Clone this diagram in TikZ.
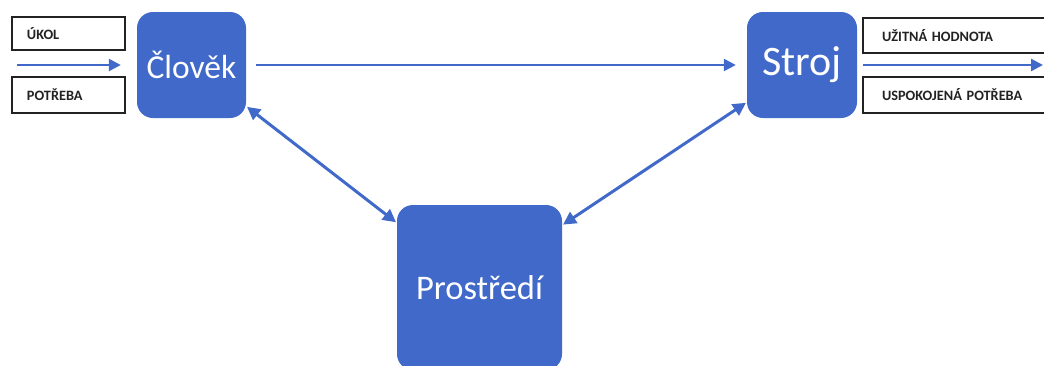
\documentclass[tikz,border=0pt]{standalone}
\usepackage{fontspec}
\setmainfont{Carlito}
\usetikzlibrary{arrows.meta}
\definecolor{boxblue}{HTML}{4169C9}
\definecolor{edge}{HTML}{222222}
\tikzset{
  bluebox/.style={fill=boxblue, draw=none, rounded corners=16pt, text=white, inner sep=0pt},
  labelbox/.style={draw=edge, line width=1.2pt, fill=white, inner ysep=0pt, align=left,
                   font=\bfseries\fontsize{14.3}{16}\selectfont, text=edge},
  flow/.style={draw=boxblue, line width=2.4pt, -{Triangle[length=12pt,width=12pt]}},
  link/.style={draw=boxblue, line width=3pt, {Triangle[length=13pt,width=13pt]}-{Triangle[length=13pt,width=13pt]}}
}
\begin{document}
\begin{tikzpicture}[x=1pt,y=-1pt]
  \useasboundingbox (0,0) rectangle (1044,365);
  \clip (0,0) rectangle (1044,365);

  % main blocks
  \node[bluebox, minimum width=109pt, minimum height=106pt, font=\fontsize{33.5}{36}\selectfont] (clovek) at (191.5,65) {Člověk};
  \node[bluebox, minimum width=110pt, minimum height=106pt, font=\fontsize{42}{44}\selectfont] (stroj) at (802,65) {Stroj};
  \node[bluebox, minimum width=165pt, minimum height=165pt, font=\fontsize{34.5}{38}\selectfont] (prostredi) at (479.5,287.5) {Prostředí};

  % input labels
  \node[labelbox, text width=83pt, inner xsep=15pt, minimum height=33pt] (ukol) at (68.5,33.5) {ÚKOL};
  \node[labelbox, text width=83pt, inner xsep=15pt, minimum height=36pt] (potreba) at (68.5,95) {POTŘEBA};

  % output labels
  \node[labelbox, text width=159pt, inner xsep=19pt, minimum height=35pt] (hodnota) at (961.5,35.5) {UŽITNÁ HODNOTA};
  \node[labelbox, text width=159pt, inner xsep=19pt, minimum height=36pt] (uspokojena) at (961.5,95) {USPOKOJENÁ POTŘEBA};

  % free ends of the horizontal flows
  \coordinate (inA) at (17,65);
  \coordinate (outA) at (1043,65);

  % flows
  \draw[flow, shorten >=16pt] (inA) -- (clovek.west);
  \draw[flow, shorten <=10pt, shorten >=11pt] (clovek.east) -- (stroj.west);
  \draw[flow, shorten <=6pt] (stroj.east) -- (outA);

  % interactions with the environment
  \draw[link, shorten <=1pt, shorten >=1pt] (clovek.-37) -- (prostredi.142);
  \draw[link, shorten <=1pt, shorten >=1pt] (stroj.214) -- (prostredi.37);
\end{tikzpicture}
\end{document}
